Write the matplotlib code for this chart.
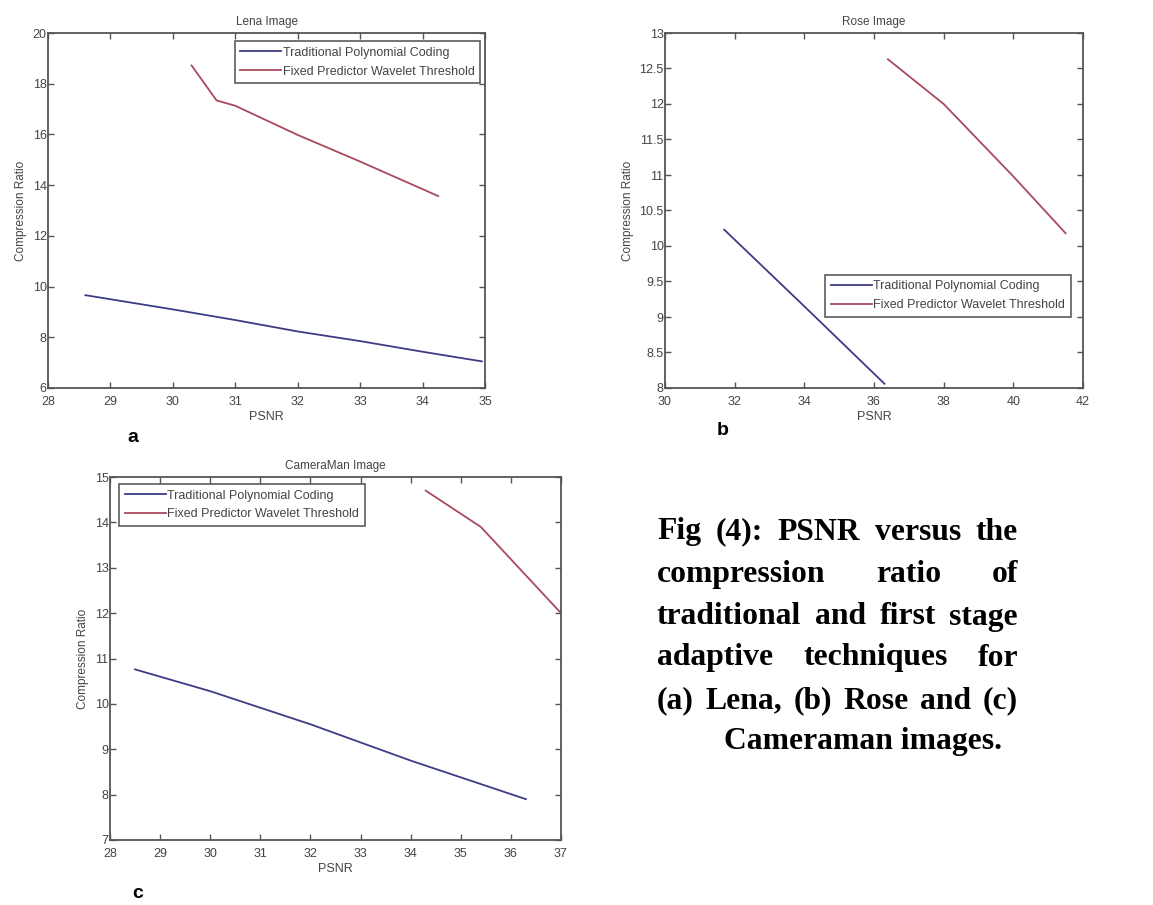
import numpy as np
import matplotlib
matplotlib.use("Agg")
import matplotlib.pyplot as plt

# Lena
lena_trad_x = [28.6, 30.0, 31.0, 32.0, 33.0, 34.0, 34.95]
lena_trad_y = [9.66, 9.1, 8.68, 8.23, 7.85, 7.43, 7.05]
lena_fixed_x = [30.3, 30.7, 31.0, 32.0, 33.0, 34.25]
lena_fixed_y = [18.72, 17.34, 17.13, 15.98, 14.93, 13.57]

# Rose
rose_trad_x = [31.7, 34.0, 36.3]
rose_trad_y = [10.23, 9.15, 8.06]
rose_fixed_x = [36.4, 38.0, 40.0, 41.5]
rose_fixed_y = [12.63, 12.0, 10.98, 10.18]

# Cameraman
cam_trad_x = [28.5, 30.0, 32.0, 34.0, 36.3]
cam_trad_y = [10.76, 10.28, 9.55, 8.75, 7.9]
cam_fixed_x = [34.3, 35.4, 37.0]
cam_fixed_y = [14.7, 13.9, 12.0]

labels = ["Traditional Polynomial Coding", "Fixed Predictor Wavelet Threshold"]
c_trad = "#3c3c86"
c_fixed = "#a84a5c"
grey = "#555555"

W, H = 1153, 905
fig = plt.figure(figsize=(W / 100, H / 100), dpi=100)
plt.rcParams['font.family'] = ['Liberation Sans', 'DejaVu Sans']


def px_axes(x0, y0, x1, y1):
    return fig.add_axes([x0 / W, 1 - y1 / H, (x1 - x0) / W, (y1 - y0) / H])


def style(ax, title, xlim, ylim, xticks, yticks):
    ax.set_xlim(xlim)
    ax.set_ylim(ylim)
    ax.set_xticks(xticks)
    ax.set_yticks(yticks)
    ax.set_yticklabels(["%g" % v for v in yticks])
    ax.tick_params(direction="in", top=True, right=True, length=4, width=1,
                   colors=grey, labelsize=9)
    ax.tick_params(axis="x", pad=6)
    ax.tick_params(axis="y", pad=1)
    for t in ax.get_xticklabels() + ax.get_yticklabels():
        t.set_color("#444444")
    for s in ax.spines.values():
        s.set_color(grey)
        s.set_linewidth(1.3)
    ax.set_title(title, fontsize=8.5, color="#444444", pad=6)
    ax.set_xlabel("PSNR", fontsize=9, color="#444444", labelpad=2)
    ax.set_ylabel("Compression Ratio", fontsize=8.5, color="#444444", labelpad=4)


def legend(ax, loc, anchor):
    lg = ax.legend(loc=loc, bbox_to_anchor=anchor, fontsize=9, frameon=True,
                   fancybox=False, handlelength=3.3, handletextpad=0.1,
                   borderpad=0.45, labelspacing=0.55, borderaxespad=0)
    lg.get_frame().set_edgecolor("#333333")
    lg.get_frame().set_linewidth(1.2)
    for t in lg.get_texts():
        t.set_color("#444444")


# (a) Lena
ax1 = px_axes(48, 33, 485, 388)
ax1.plot(lena_trad_x, lena_trad_y, color=c_trad, lw=1.3, label=labels[0])
ax1.plot(lena_fixed_x, lena_fixed_y, color=c_fixed, lw=1.3, label=labels[1])
style(ax1, "Lena Image", (28, 35), (6, 20), range(28, 36), range(6, 21, 2))
legend(ax1, "upper right", (0.989, 0.977))

# (b) Rose
ax2 = px_axes(665, 33, 1083, 388)
ax2.plot(rose_trad_x, rose_trad_y, color=c_trad, lw=1.3, label=labels[0])
ax2.plot(rose_fixed_x, rose_fixed_y, color=c_fixed, lw=1.3, label=labels[1])
style(ax2, "Rose Image", (30, 42), (8, 13), range(30, 43, 2), np.arange(8, 13.01, 0.5))
legend(ax2, "lower left", (0.383, 0.2))

# (c) Cameraman
ax3 = px_axes(110, 477, 561, 840)
ax3.plot(cam_trad_x, cam_trad_y, color=c_trad, lw=1.3, label=labels[0])
ax3.plot(cam_fixed_x, cam_fixed_y, color=c_fixed, lw=1.3, label=labels[1])
style(ax3, "CameraMan Image", (28, 37), (7, 15), range(28, 38), range(7, 16))
legend(ax3, "upper left", (0.02, 0.981))

# panel letters
for x, y, s in [(133, 437, "a"), (723, 430, "b"), (138, 893, "c")]:
    fig.text(x / W, 1 - y / H, s, fontsize=14, fontweight="bold", ha="center", va="center")

# caption, justified
cap_lines = ["Fig (4): PSNR versus the",
             "compression ratio of",
             "traditional and first stage",
             "adaptive techniques for",
             "(a) Lena, (b) Rose and (c)"]
cap_y = [532, 574, 617, 658, 701]
left, right = 657, 1018
fig.canvas.draw()
rend = fig.canvas.get_renderer()
cap_font = dict(fontsize=22.8, fontweight="bold", family=["Liberation Serif", "DejaVu Serif"],
                va="center", ha="left")
for line, y in zip(cap_lines, cap_y):
    words = line.split()
    tmp = [fig.text(0, 0, w, **cap_font) for w in words]
    widths = [t.get_window_extent(rend).width for t in tmp]
    for t in tmp:
        t.remove()
    gap = (right - left - sum(widths)) / (len(words) - 1)
    x = left
    for w, wd in zip(words, widths):
        fig.text(x / W, 1 - y / H, w, **cap_font)
        x += wd + gap
fig.text(1002 / W, 1 - 742 / H, "Cameraman images.", **dict(cap_font, ha="right"))

fig.savefig("out.png", dpi=100)
